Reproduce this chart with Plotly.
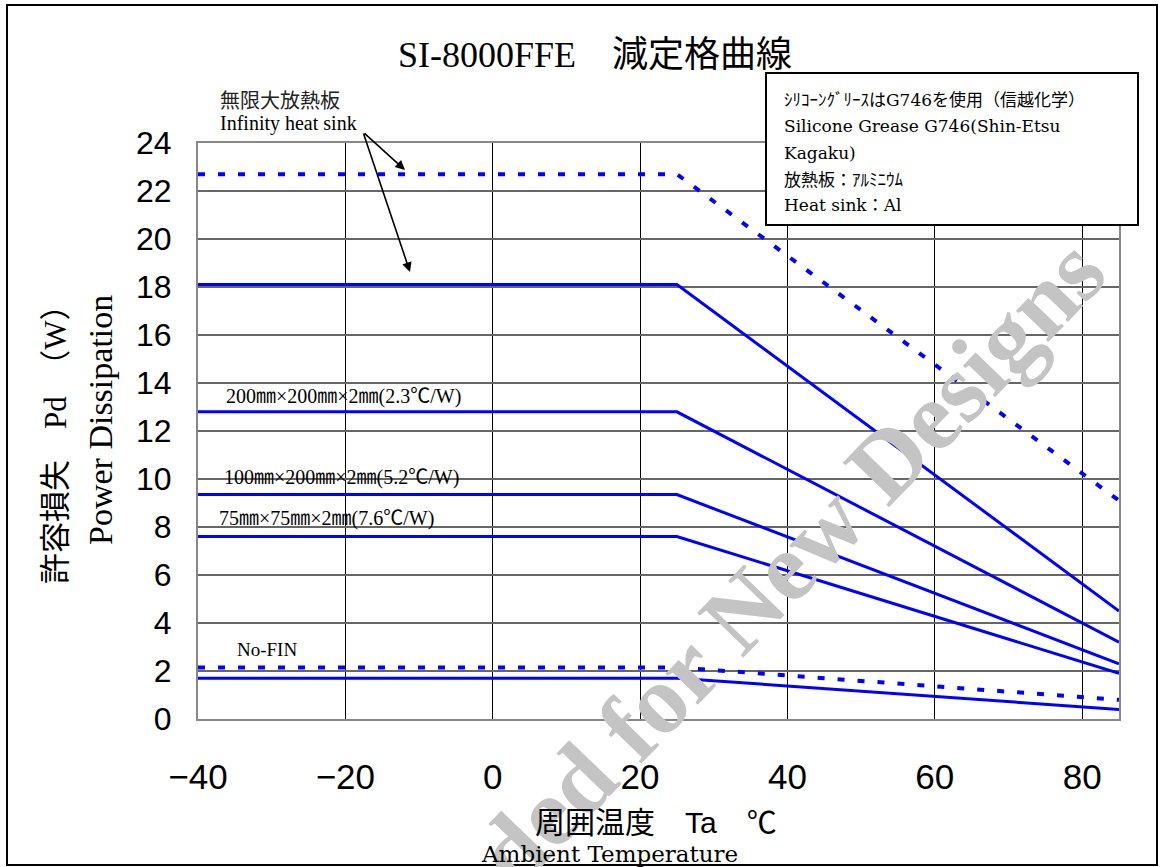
import plotly.graph_objects as go

# ---- data ----
temps = [-40, 25, 85]
inf_dashed = [22.7, 22.7, 9.1]
inf_solid = [18.1, 18.1, 4.5]
al_200x200 = [12.8, 12.8, 3.2]
al_100x200 = [9.35, 9.35, 2.3]
al_75x75 = [7.6, 7.6, 1.9]
nofin_dashed = [2.15, 2.15, 0.8]
nofin_solid = [1.7, 1.7, 0.4]

x_ticks = [-40, -20, 0, 20, 40, 60, 80]
y_ticks = list(range(0, 25, 2))

SERIF = "Liberation Serif, Times New Roman, Noto Sans CJK JP, serif"
WSERIF = "DejaVu Serif, Noto Sans CJK JP, serif"
SANS = "Liberation Sans, Arial, Noto Sans CJK JP, sans-serif"
BLUE = "#0000FF"

fig = go.Figure()

def add_line(y, dashed):
    fig.add_trace(go.Scatter(
        x=temps, y=y, mode="lines",
        line=dict(color=BLUE, width=4 if dashed else 3,
                  dash="7px,13px" if dashed else "solid"),
        showlegend=False, hoverinfo="skip"))

add_line(inf_dashed, True)
add_line(inf_solid, False)
add_line(al_200x200, False)
add_line(al_100x200, False)
add_line(al_75x75, False)
add_line(nofin_dashed, True)
add_line(nofin_solid, False)

L, R, T, B = 198, 41, 143, 148
W, H = 1160, 867
PW, PH = W - L - R, H - T - B

def px(xp):
    return (xp - L) / PW

def py(yp):
    return (H - B - yp) / PH

ann = []

def text(s, x, y, size, family=SERIF, xanchor="left", color="#000", angle=0, yanchor="middle"):
    ann.append(dict(text=s, x=px(x), y=py(y), xref="paper", yref="paper",
                    showarrow=False, xanchor=xanchor, yanchor=yanchor,
                    textangle=angle, font=dict(family=family, size=size, color=color)))

# watermark
text("<b>ded for New Designs</b>", 790, 562, 98, family=SERIF, xanchor="center",
     color="#c4c4c4", angle=-46)

# title
text("SI-8000FFE　減定格曲線", 595, 55, 36, xanchor="center")

# annotations in plot
text("無限大放熱板", 218, 101, 20, color="#222")
text("Infinity heat sink", 218, 124, 20)
text("200㎜×200㎜×2㎜(2.3℃/W)", 224, 396, 20)
text("100㎜×200㎜×2㎜(5.2℃/W)", 222, 477, 20)
text("75㎜×75㎜×2㎜(7.6℃/W)", 217, 518, 20)
text("No-FIN", 235, 649, 19)

# arrows
for hx, hy in [(405, 170), (410, 272)]:
    ann.append(dict(x=px(hx), y=py(hy), xref="paper", yref="paper", text="",
                    showarrow=True, ax=363 - hx, ay=132 - hy, arrowhead=2,
                    arrowsize=1.2, arrowwidth=1.6, arrowcolor="#000"))

# info box text
box_lines = [
    ("ｼﾘｺｰﾝｸﾞﾘｰｽは<span style='font-family:DejaVu Serif'>G746</span>を使用（信越化学）", 100),
    ("Silicone Grease G746(Shin-Etsu", 126),
    ("Kagaku)", 153),
    ("放熱板：ｱﾙﾐﾆｳﾑ", 180),
    ("Heat sink：Al", 205),
]
for s, yy in box_lines:
    text(s, 782, yy, 17, family=WSERIF)

# axis titles
text("許容損失　Pd　（W）", 55, 437, 31, xanchor="center", angle=-90)
text("Power Dissipation", 100, 420, 34, xanchor="center", angle=-90)
text("周囲温度　<span style='font-family:Liberation Sans'>Ta</span>　℃", 656, 822, 30, xanchor="center")
text("Ambient Temperature", 609, 854, 23, family=WSERIF, xanchor="center")

shapes = [
    # info box
    dict(type="rect", xref="paper", yref="paper",
         x0=px(766), x1=px(1138), y0=py(225), y1=py(73),
         line=dict(color="#000", width=2), fillcolor="white", layer="above"),
    # outer frame
    dict(type="rect", xref="paper", yref="paper",
         x0=px(7), x1=px(1157), y0=py(865), y1=py(5),
         line=dict(color="#000", width=2), fillcolor="rgba(0,0,0,0)"),
]

fig.update_layout(
    width=W, height=H,
    margin=dict(l=L, r=R, t=T, b=B),
    paper_bgcolor="white", plot_bgcolor="white",
    annotations=ann, shapes=shapes,
    showlegend=False,
)
fig.update_xaxes(
    range=[-40, 85], tickvals=x_ticks, showgrid=True, gridcolor="#000", gridwidth=1,
    zeroline=False, showline=True, linecolor="#888", linewidth=2, mirror=True,
    ticks="", tickfont=dict(family=SANS, size=35, color="#000"), ticklabelstandoff=26,
)
fig.update_yaxes(
    range=[0, 24], tickvals=y_ticks, showgrid=True, gridcolor="#666", gridwidth=1.5,
    zeroline=False, showline=True, linecolor="#888", linewidth=2, mirror=True,
    ticks="", tickfont=dict(family=SANS, size=32, color="#000"), ticklabelstandoff=18,
)

fig.write_html("out.html", config={"displayModeBar": False},
               post_script="document.body.style.margin='0px';document.body.style.overflow='hidden';")
